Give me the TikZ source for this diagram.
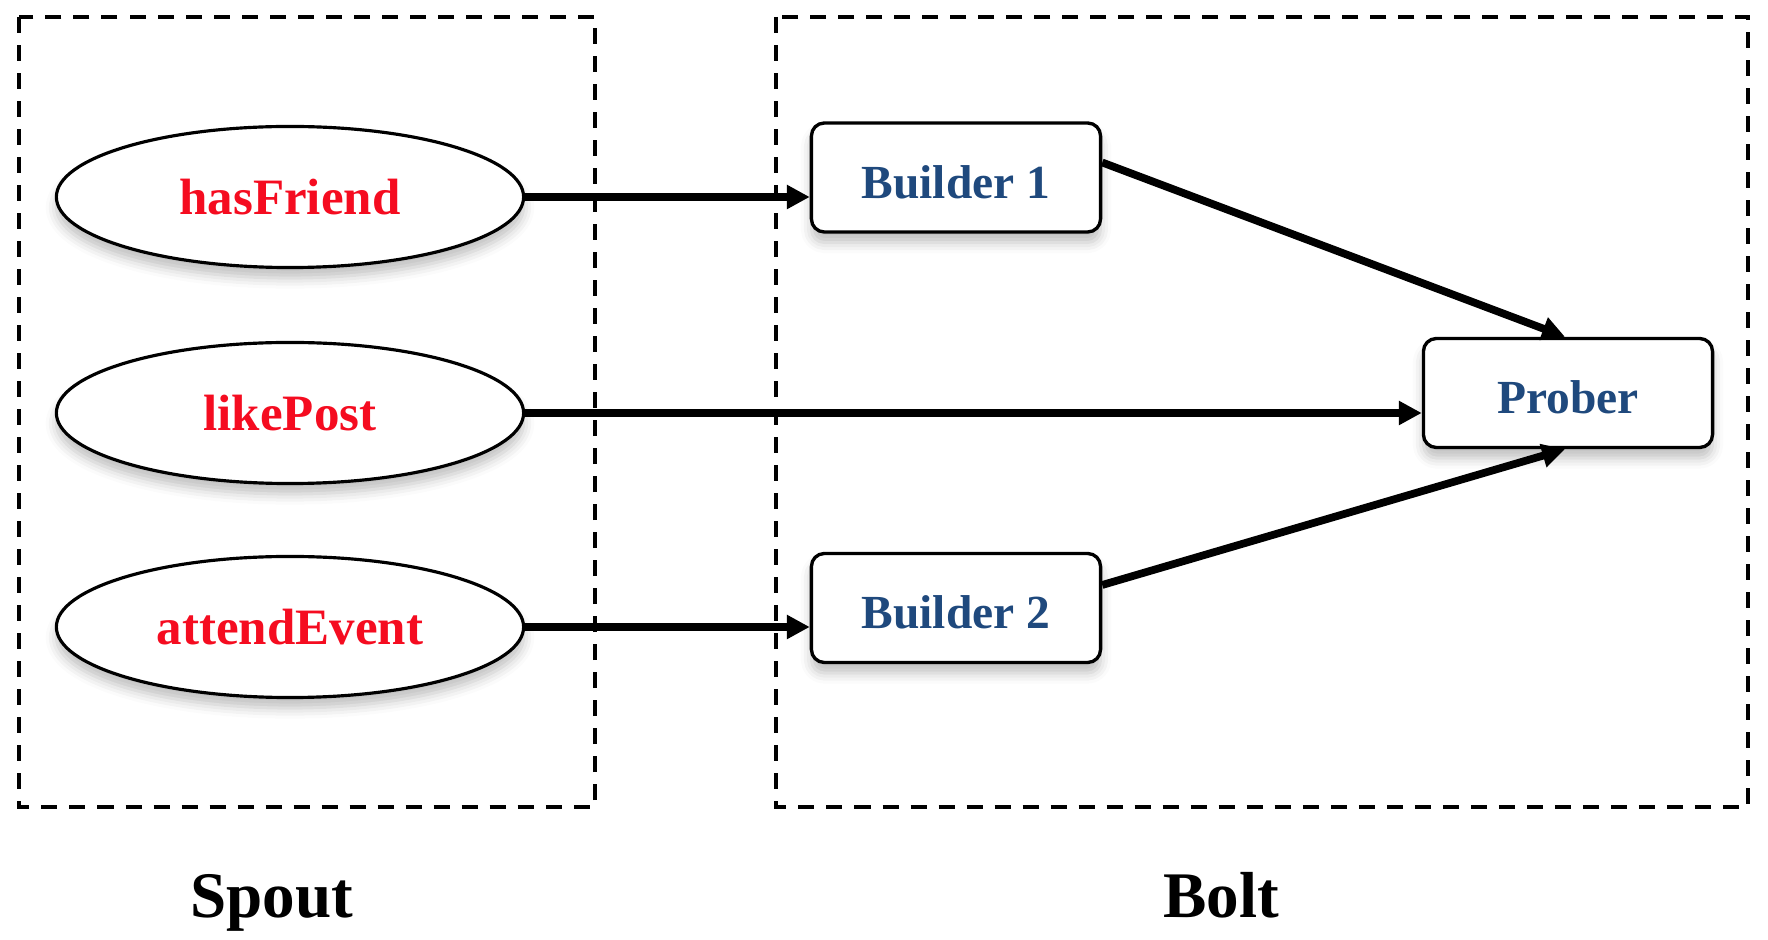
\documentclass[tikz,border=0pt]{standalone}
\usepackage{fontspec}
\setmainfont{Liberation Serif}
\usetikzlibrary{arrows.meta,shapes.geometric,shadows.blur}
\definecolor{spred}{RGB}{245,12,32}
\definecolor{boltblue}{RGB}{31,73,125}
\begin{document}
\begin{tikzpicture}[x=0.01cm,y=-0.01cm,
  group/.style={draw=black,line width=1.2pt,dash pattern=on 0.16cm off 0.12cm},
  spoutnode/.style={ellipse,draw=black,line width=0.9pt,fill=white,minimum width=4.67cm,minimum height=1.41cm,inner sep=0pt,
     text=spred,font=\fontsize{14.5}{17}\selectfont\bfseries,
     blur shadow={shadow xshift=0pt,shadow yshift=-3pt,shadow opacity=25,shadow blur radius=3pt}},
  boltnode/.style={rectangle,rounded corners=0.13cm,draw=black,line width=0.95pt,fill=white,minimum width=2.89cm,minimum height=1.09cm,inner sep=0pt,
     text height=11.8pt,text depth=0pt,
     text=boltblue,font=\fontsize{13.5}{16}\selectfont\bfseries,
     blur shadow={shadow xshift=0pt,shadow yshift=-3pt,shadow opacity=25,shadow blur radius=3pt}},
  flow/.style={draw=black,line width=2.2pt,-{Triangle[length=6.5pt,width=6.5pt]}},
  grouplabel/.style={anchor=base,font=\fontsize{18.5}{22}\selectfont\bfseries,inner sep=0pt}
]
\useasboundingbox (0,0) rectangle (1768,940);
% group frames
\draw[group] (19,17) rectangle (595,807);
\draw[group] (776,17) rectangle (1748,807);
% spout nodes
\node[spoutnode] (hf) at (290,197) {hasFriend};
\node[spoutnode] (lp) at (290,413) {likePost};
\node[spoutnode] (ae) at (290,627) {attendEvent};
% bolt nodes
\node[boltnode] (b1) at (956,177.5) {Builder 1};
\node[boltnode] (b2) at (956,608) {Builder 2};
\node[boltnode] (pr) at (1568,393) {Prober};
% connectors
\coordinate (b1in) at (b1.west |- hf.east);
\coordinate (prin) at (pr.west |- lp.east);
\coordinate (b2in) at (b2.west |- ae.east);
\coordinate (b1out) at ([yshift=0.15cm]b1.east);
\coordinate (b2out) at ([yshift=0.23cm]b2.east);
\draw[flow] (hf.east) -- (b1in);
\draw[flow] (lp.east) -- (prin);
\draw[flow] (ae.east) -- (b2in);
\draw[flow] (b1out) -- ([xshift=-0.03cm]pr.north);
\draw[flow] (b2out) -- ([xshift=-0.03cm]pr.south);
% labels
\node[grouplabel] (spout) at (272,918) {Spout};
\node[grouplabel] (bolt) at (1221,918) {Bolt};
\end{tikzpicture}
\end{document}
